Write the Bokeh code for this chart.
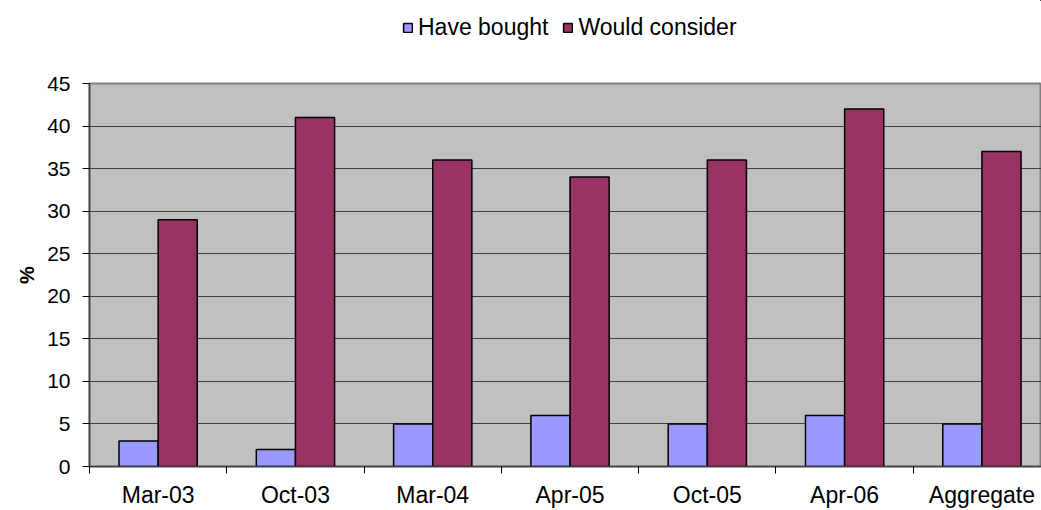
from bokeh.plotting import figure
from bokeh.layouts import column
from bokeh.models import ColumnDataSource, Range1d, FixedTicker, Legend, LegendItem
from bokeh.embed import file_html
from bokeh.resources import INLINE

categories = ["Mar-03", "Oct-03", "Mar-04", "Apr-05", "Oct-05", "Apr-06", "Aggregate"]
have_bought = [3, 2, 5, 6, 5, 6, 5]
would_consider = [29, 41, 36, 34, 36, 42, 37]
series_names = ["Have bought", "Would consider"]
y_ticks = [0, 5, 10, 15, 20, 25, 30, 35, 40, 45]

FONT = "Liberation Sans"
C1, C2 = "#9999FF", "#993366"
bar_w = 0.285
centers = [i + 0.5 for i in range(len(categories))]

src = ColumnDataSource(dict(
    x1=[c - bar_w / 2 for c in centers],
    x2=[c + bar_w / 2 for c in centers],
    hb=have_bought,
    wc=would_consider,
))

# ---- legend strip (its plot frame shows no data; only the legend) ----
lg = figure(width=1041, height=70, output_backend="svg", toolbar_location=None,
            x_axis_location=None, y_axis_location=None,
            x_range=Range1d(-1000, -999), y_range=Range1d(-1000, -999),
            min_border=0, min_border_left=89)
lg.outline_line_color = None
lg.border_fill_color = "white"
lg.grid.visible = False
d1 = lg.vbar(x="x1", top="hb", width=bar_w, source=src, fill_color=C1, line_color="black", line_width=1.5)
d2 = lg.vbar(x="x2", top="wc", width=bar_w, source=src, fill_color=C2, line_color="black", line_width=1.5)
legend = Legend(items=[LegendItem(label=series_names[0], renderers=[d1], index=0),
                       LegendItem(label=series_names[1], renderers=[d2], index=0)],
                orientation="horizontal", location=(313, 29),
                glyph_width=11, glyph_height=11, label_text_font=FONT,
                label_text_font_size="23px", label_text_color="black",
                label_standoff=5, spacing=14,
                padding=0, margin=0, border_line_color=None,
                background_fill_alpha=0, label_height=14)
lg.add_layout(legend, "center")

# ---- main chart ----
p = figure(width=1041, height=440, output_backend="svg", toolbar_location=None,
           x_range=Range1d(0, 6.934), y_range=Range1d(0, 45),
           min_border_left=89, min_border_right=0, min_border_top=13, min_border_bottom=43)

p.background_fill_color = "#C0C0C0"
p.border_fill_color = "white"
p.outline_line_color = "#808080"
p.outline_line_width = 2

p.vbar(x="x1", top="hb", width=bar_w, source=src, fill_color=C1,
       line_color="black", line_width=1.5)
p.vbar(x="x2", top="wc", width=bar_w, source=src, fill_color=C2,
       line_color="black", line_width=1.5)

# x axis
p.xaxis.ticker = FixedTicker(ticks=centers, minor_ticks=list(range(len(categories) + 1)))
p.xaxis.major_label_overrides = {c: lab for c, lab in zip(centers, categories)}
p.xaxis.major_tick_line_color = None
p.xaxis.minor_tick_line_color = "black"
p.xaxis.minor_tick_out = 7
p.xaxis.minor_tick_in = 0
p.xaxis.axis_line_color = "#404040"
p.xaxis.axis_line_width = 1.5
p.xaxis.major_label_text_font = FONT
p.xaxis.major_label_text_font_size = "23px"
p.xaxis.major_label_text_color = "black"
p.xaxis.major_label_standoff = 8

# y axis
p.yaxis.ticker = FixedTicker(ticks=y_ticks)
p.yaxis.minor_tick_line_color = None
p.yaxis.major_tick_out = 7
p.yaxis.major_tick_in = 0
p.yaxis.major_tick_line_color = "black"
p.yaxis.axis_line_color = "#404040"
p.yaxis.axis_line_width = 1.5
p.yaxis.major_label_text_font = FONT
p.yaxis.major_label_text_font_size = "21px"
p.yaxis.major_label_text_color = "black"
p.yaxis.major_label_standoff = 12
p.yaxis.axis_label = "%"
p.yaxis.axis_label_text_font = FONT
p.yaxis.axis_label_text_font_size = "20px"
p.yaxis.axis_label_text_font_style = "bold"
p.yaxis.axis_label_text_color = "black"
p.yaxis.axis_label_standoff = 6

p.xgrid.grid_line_color = None
p.ygrid.ticker = FixedTicker(ticks=y_ticks)
p.ygrid.grid_line_color = "#404040"
p.ygrid.grid_line_width = 1.2

layout = column(lg, p, spacing=0)
open("out.html", "w").write(file_html(layout, INLINE))
